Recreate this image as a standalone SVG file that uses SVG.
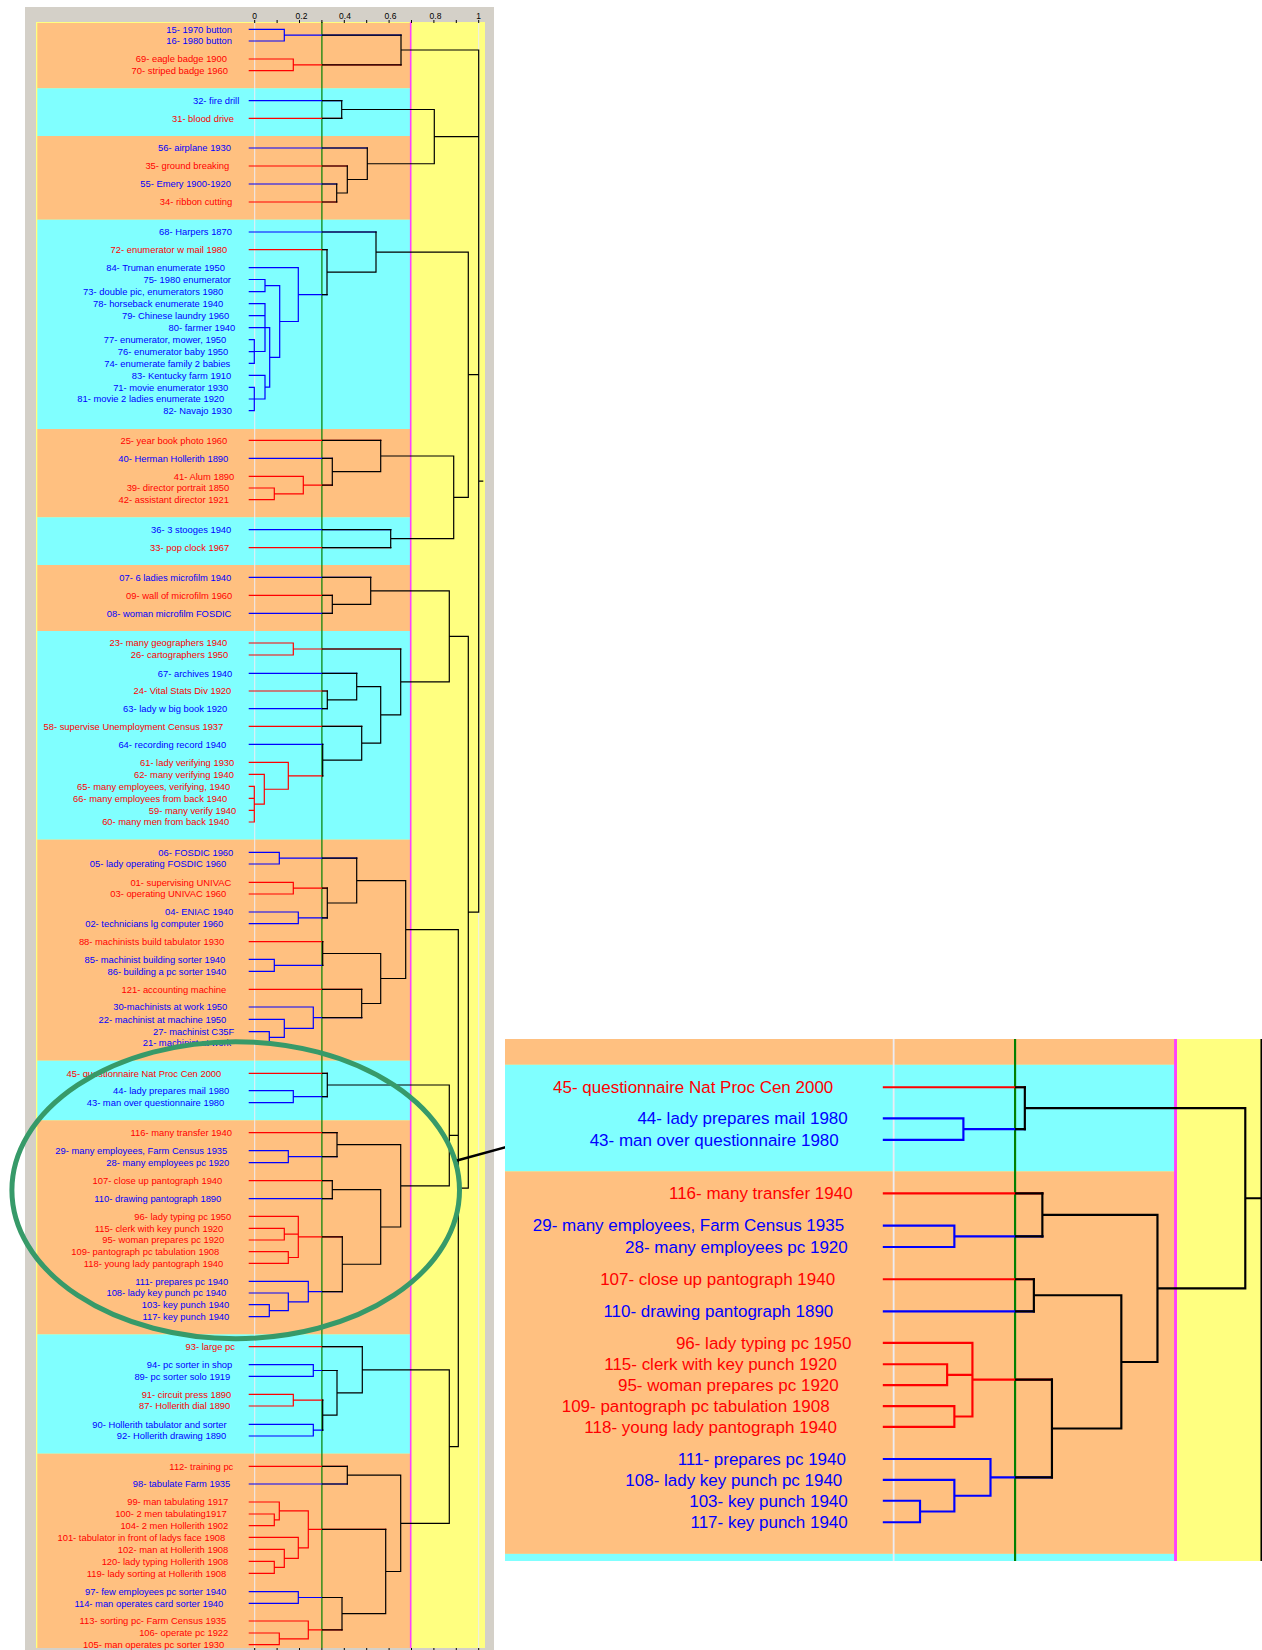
<svg xmlns="http://www.w3.org/2000/svg" xmlns:xlink="http://www.w3.org/1999/xlink" width="1262" height="1650" viewBox="0 0 1262 1650">
<style>
text{font-family:"Liberation Sans",Arial,sans-serif;font-size:9.4px;text-anchor:end}
.b{fill:#0000ff}
.r{fill:#ff0000}
.ax{font-size:8.5px;fill:#000;text-anchor:middle}
.or{fill:#ffc080}
.cy{fill:#80ffff}
</style>
<defs>
<clipPath id="rg"><rect x="321.9" y="0" width="200" height="1700"/></clipPath>
<clipPath id="insetClip"><rect x="39.6" y="1046.3" width="418.9" height="292.1"/></clipPath>
</defs>
<rect x="0" y="0" width="1262" height="1650" fill="#fff"/>
<rect x="25" y="7" width="469" height="1643" fill="#d4d0c8"/>
<g id="bands">
<rect x="36" y="22" width="449" height="1626" fill="#ffff80"/>
<rect class="or" x="37.3" y="23" width="373.4" height="65.3"/>
<rect class="cy" x="37.3" y="88.3" width="373.4" height="47.7"/>
<rect class="or" x="37.3" y="136" width="373.4" height="83.7"/>
<rect class="cy" x="37.3" y="219.7" width="373.4" height="209.3"/>
<rect class="or" x="37.3" y="429" width="373.4" height="88.3"/>
<rect class="cy" x="37.3" y="517.3" width="373.4" height="47.7"/>
<rect class="or" x="37.3" y="565" width="373.4" height="66"/>
<rect class="cy" x="37.3" y="631" width="373.4" height="208.7"/>
<rect class="or" x="37.3" y="839.7" width="373.4" height="221"/>
<rect class="cy" x="37.3" y="1060.7" width="373.4" height="59.7"/>
<rect class="or" x="37.3" y="1120.4" width="373.4" height="214"/>
<rect class="cy" x="37.3" y="1334.4" width="373.4" height="119.3"/>
<rect class="or" x="37.3" y="1453.7" width="373.4" height="194.3"/>
</g>
<g id="reflines" fill="none">
<path d="M254.7 22V1648" stroke="#ececf4" stroke-width="1"/>
<path d="M478.7 22V1648" stroke="#ececf4" stroke-width="1"/>
<path d="M321.9 22V1648" stroke="#008000" stroke-width="1.2"/>
<path d="M410.7 22V1648" stroke="#ff40ff" stroke-width="1.6"/>
</g>
<g id="axis">
<path d="M254.7 20V23M277.1 20V23M299.5 20V23M321.9 20V23M344.3 20V23M366.7 20V23M389.1 20V23M411.5 20V23M433.9 20V23M456.3 20V23M478.7 20V23M254.7 1648V1650M277.1 1648V1650M299.5 1648V1650M321.9 1648V1650M344.3 1648V1650M366.7 1648V1650M389.1 1648V1650M411.5 1648V1650M433.9 1648V1650M456.3 1648V1650M478.7 1648V1650" stroke="#000" stroke-width="1"/>
<text class="ax" x="254.7" y="19">0</text>
<text class="ax" x="301.5" y="19">0.2</text>
<text class="ax" x="345" y="19">0.4</text>
<text class="ax" x="390.5" y="19">0.6</text>
<text class="ax" x="435.5" y="19">0.8</text>
<text class="ax" x="478.7" y="19">1</text>
</g>
<g id="connectors" fill="none" stroke-width="1.2" stroke-linecap="square">
<g stroke="#0000ff"><path id="pB" d="M249.3 29.3H284.3M249.3 41H284.3M249.3 100.7H341.7M249.3 148H367.3M249.3 184H336.7M249.3 232H376M249.3 267.7H298.3M249.3 279.5H265M249.3 291.7H265M249.3 303.7H265M249.3 315.7H265M249.3 327.7H265M249.3 339.7H254.3M249.3 351.7H254.3M249.3 363.3H254.3M249.3 375.3H265M249.3 387.3H254.3M249.3 399H254.3M249.3 410.7H254.3M249.3 458.3H332.3M249.3 529.7H390.7M249.3 577.3H370.7M249.3 613.3H332.3M249.3 673.3H356.7M249.3 708.7H327.3M249.3 744.3H322.7M249.3 852.3H279.3M249.3 864H279.3M249.3 912H298.3M249.3 923.7H298.3M249.3 959.3H274.3M249.3 971.3H274.3M249.3 1007H313.3M249.3 1019.3H284.3M249.3 1031.7H269.3M249.3 1043H269.3M249.3 1090.7H293.3M249.3 1102.7H293.3M249.3 1150.7H288.3M249.3 1162.7H288.3M249.3 1198.7H332.3M249.3 1281.3H308.3M249.3 1293H288.3M249.3 1304.7H269.3M249.3 1316.7H269.3M249.3 1364.7H313.3M249.3 1376.3H313.3M249.3 1424.3H313.3M249.3 1436H313.3M249.3 1484H347.3M249.3 1591.7H298.3M249.3 1603.3H298.3M284.3 29.3V41M284.3 35.2H401M265 279.5V291.7M265 285.6H279.7M254.3 339.7V363.3M254.3 351.5H265M265 303.7V351.5M265 327.6H269.7M254.3 387.3V410.7M254.3 399H265M265 375.3V399M265 387.2H269.7M269.7 327.6V387.2M269.7 357.4H279.7M279.7 285.6V357.4M279.7 321.5H298.3M298.3 267.7V321.5M298.3 294.6H327M279.3 852.3V864M279.3 858.2H356.7M298.3 912V923.7M298.3 917.8H327.3M274.3 959.3V971.3M274.3 965.3H322.7M269.3 1031.7V1043M269.3 1037.3H284.3M284.3 1019.3V1037.3M284.3 1028.3H313.3M313.3 1007V1028.3M313.3 1017.7H361.7M293.3 1090.7V1102.7M293.3 1096.7H327.3M288.3 1150.7V1162.7M288.3 1156.7H337M269.3 1304.7V1316.7M269.3 1310.7H288.3M288.3 1293V1310.7M288.3 1301.9H308.3M308.3 1281.3V1301.9M308.3 1291.6H342.3M313.3 1364.7V1376.3M313.3 1370.5H337M313.3 1424.3V1436M313.3 1430.2H322.7M298.3 1591.7V1603.3M298.3 1597.5H342"/></g>
<g stroke="#ff0000"><path id="pR" d="M249.3 59H293.3M249.3 70.7H293.3M249.3 118.3H341.7M249.3 166H347.3M249.3 202H336.7M249.3 249.7H327M249.3 440.3H380.7M249.3 476.3H303.3M249.3 488H274.3M249.3 499.7H274.3M249.3 547.7H390.7M249.3 595.3H332.3M249.3 643H293.3M249.3 655H293.3M249.3 691H327.3M249.3 726.3H361.7M249.3 762.3H288.3M249.3 774.3H264.3M249.3 786.3H254.3M249.3 798.3H254.3M249.3 810.3H254.3M249.3 822H254.3M249.3 882.3H293.3M249.3 894H293.3M249.3 941.7H322.7M249.3 989.3H361.7M249.3 1073.3H327.3M249.3 1132.7H337M249.3 1180.7H332.3M249.3 1216.3H298.3M249.3 1228.3H284.3M249.3 1240H284.3M249.3 1251.7H288.3M249.3 1263.3H288.3M249.3 1346.7H362.3M249.3 1394.3H293.3M249.3 1406H293.3M249.3 1466.3H347.3M249.3 1502H279.3M249.3 1514H274.3M249.3 1525.7H274.3M249.3 1537.3H298.3M249.3 1549.3H284.3M249.3 1561.3H274.3M249.3 1573.3H274.3M249.3 1621H308.3M249.3 1633H279.3M249.3 1644.7H279.3M293.3 59V70.7M293.3 64.85H401M274.3 488V499.7M274.3 493.85H303.3M303.3 476.3V493.85M303.3 485.1H332.3M293.3 643V655M293.3 649H400.7M254.3 786.3V822M254.3 804.2H264.3M264.3 774.3V804.2M264.3 789.25H288.3M288.3 762.3V789.25M288.3 775.8H322.7M293.3 882.3V894M293.3 888.2H327.3M284.3 1228.3V1240M284.3 1234.2H298.3M288.3 1251.7V1263.3M288.3 1257.5H298.3M298.3 1216.3V1257.5M298.3 1236.9H342.3M293.3 1394.3V1406M293.3 1400.2H322.7M274.3 1514V1525.7M274.3 1519.85H279.3M279.3 1502V1519.85M279.3 1510.9H308.3M274.3 1561.3V1573.3M274.3 1567.3H284.3M284.3 1549.3V1567.3M284.3 1558.3H298.3M298.3 1537.3V1558.3M298.3 1547.8H308.3M308.3 1510.9V1547.8M308.3 1529.35H385.7M279.3 1633V1644.7M279.3 1638.85H308.3M308.3 1621V1638.85M308.3 1629.9H342"/></g>
<g stroke="#000000" clip-path="url(#rg)"><use xlink:href="#pB" href="#pB"/><use xlink:href="#pR" href="#pR"/></g>
<path id="pK" stroke="#000000" d="M401 35.2V64.85M401 50H478.7M341.7 100.7V118.3M341.7 109.5H434.3M336.7 184V202M336.7 193H347.3M347.3 166V193M347.3 179.5H367.3M367.3 148V179.5M367.3 163.75H434.3M434.3 109.5V163.75M434.3 136.6H478.7M327 249.7V294.6M327 272.15H376M376 232V272.15M376 252.1H468.3M332.3 458.3V485.1M332.3 471.7H380.7M380.7 440.3V471.7M380.7 456H453.7M390.7 529.7V547.7M390.7 538.7H453.7M453.7 456V538.7M453.7 497.35H468.3M468.3 252.1V497.35M468.3 374.7H478.7M332.3 595.3V613.3M332.3 604.3H370.7M370.7 577.3V604.3M370.7 590.8H449.3M327.3 691V708.7M327.3 699.85H356.7M356.7 673.3V699.85M356.7 686.6H380.7M322.7 744.3V775.8M322.7 760.05H361.7M361.7 726.3V760.05M361.7 743.2H380.7M380.7 686.6V743.2M380.7 714.9H400.7M400.7 649V714.9M400.7 681.95H449.3M449.3 590.8V681.95M449.3 636.4H468.3M327.3 888.2V917.8M327.3 903H356.7M356.7 858.2V903M356.7 880.6H405.7M322.7 941.7V965.3M322.7 953.5H380.7M361.7 989.3V1017.7M361.7 1003.5H380.7M380.7 953.5V1003.5M380.7 978.5H405.7M405.7 880.6V978.5M405.7 929.55H458.3M327.3 1073.3V1096.7M327.3 1085H449.3M337 1132.7V1156.7M337 1144.7H400.7M332.3 1180.7V1198.7M332.3 1189.7H380.7M342.3 1236.9V1291.6M342.3 1264.25H380.7M380.7 1189.7V1264.25M380.7 1227H400.7M400.7 1144.7V1227M400.7 1185.85H449.3M449.3 1085V1185.85M449.3 1135.4H458.3M322.7 1400.2V1430.2M322.7 1415.2H337M337 1370.5V1415.2M337 1392.85H362.3M362.3 1346.7V1392.85M362.3 1369.8H449.3M347.3 1466.3V1484M347.3 1475.15H400.7M342 1597.5V1629.9M342 1613.7H385.7M385.7 1529.35V1613.7M385.7 1571.5H400.7M400.7 1475.15V1571.5M400.7 1523.3H449.3M449.3 1369.8V1523.3M449.3 1446.55H458.3M458.3 929.55V1446.55M458.3 1188.05H468.3M468.3 636.4V1188.05M468.3 912.2H478.7M478.7 50V912.2M478.7 481.1H482.7"/>
</g>
<g id="leaves">
<g id="n15"><text class="b" x="232" y="32.6">15- 1970 button</text></g>
<g id="n16"><text class="b" x="232" y="44.3">16- 1980 button</text></g>
<g id="n69"><text class="r" x="227" y="62.3">69- eagle badge 1900</text></g>
<g id="n70"><text class="r" x="228" y="74">70- striped badge 1960</text></g>
<g id="n32"><text class="b" x="239.3" y="104">32- fire drill</text></g>
<g id="n31"><text class="r" x="234" y="121.6">31- blood drive</text></g>
<g id="n56"><text class="b" x="231" y="151.3">56- airplane 1930</text></g>
<g id="n35"><text class="r" x="229.3" y="169.3">35- ground breaking</text></g>
<g id="n55"><text class="b" x="231" y="187.3">55- Emery 1900-1920</text></g>
<g id="n34"><text class="r" x="232.3" y="205.3">34- ribbon cutting</text></g>
<g id="n68"><text class="b" x="232" y="235.3">68- Harpers 1870</text></g>
<g id="n72"><text class="r" x="227.3" y="253">72- enumerator w mail 1980</text></g>
<g id="n84"><text class="b" x="225" y="271">84- Truman enumerate 1950</text></g>
<g id="n75"><text class="b" x="231" y="282.8">75- 1980 enumerator</text></g>
<g id="n73"><text class="b" x="223.3" y="295">73- double pic, enumerators 1980</text></g>
<g id="n78"><text class="b" x="223.3" y="307">78- horseback enumerate 1940</text></g>
<g id="n79"><text class="b" x="229.3" y="319">79- Chinese laundry 1960</text></g>
<g id="n80"><text class="b" x="235.3" y="331">80- farmer 1940</text></g>
<g id="n77"><text class="b" x="226.3" y="343">77- enumerator, mower, 1950</text></g>
<g id="n76"><text class="b" x="228.3" y="355">76- enumerator baby 1950</text></g>
<g id="n74"><text class="b" x="230.3" y="366.6">74- enumerate family 2 babies</text></g>
<g id="n83"><text class="b" x="231.3" y="378.6">83- Kentucky farm 1910</text></g>
<g id="n71"><text class="b" x="228.3" y="390.6">71- movie enumerator 1930</text></g>
<g id="n81"><text class="b" x="224.3" y="402.3">81- movie 2 ladies enumerate 1920</text></g>
<g id="n82"><text class="b" x="232" y="414">82- Navajo 1930</text></g>
<g id="n25"><text class="r" x="227.3" y="443.6">25- year book photo 1960</text></g>
<g id="n40"><text class="b" x="228.3" y="461.6">40- Herman Hollerith 1890</text></g>
<g id="n41"><text class="r" x="234.3" y="479.6">41- Alum 1890</text></g>
<g id="n39"><text class="r" x="229.3" y="491.3">39- director portrait 1850</text></g>
<g id="n42"><text class="r" x="229" y="503">42- assistant director 1921</text></g>
<g id="n36"><text class="b" x="231.3" y="533">36- 3 stooges 1940</text></g>
<g id="n33"><text class="r" x="229.3" y="551">33- pop clock 1967</text></g>
<g id="n07"><text class="b" x="231.3" y="580.6">07- 6 ladies microfilm 1940</text></g>
<g id="n09"><text class="r" x="232.3" y="598.6">09- wall of microfilm 1960</text></g>
<g id="n08"><text class="b" x="231.3" y="616.6">08- woman microfilm FOSDIC</text></g>
<g id="n23"><text class="r" x="227.3" y="646.3">23- many geographers 1940</text></g>
<g id="n26"><text class="r" x="228.3" y="658.3">26- cartographers 1950</text></g>
<g id="n67"><text class="b" x="232.3" y="676.6">67- archives 1940</text></g>
<g id="n24"><text class="r" x="231.3" y="694.3">24- Vital Stats Div 1920</text></g>
<g id="n63"><text class="b" x="227.3" y="712">63- lady w big book 1920</text></g>
<g id="n58"><text class="r" x="223.3" y="729.6">58- supervise Unemployment Census 1937</text></g>
<g id="n64"><text class="b" x="226.3" y="747.6">64- recording record 1940</text></g>
<g id="n61"><text class="r" x="234.3" y="765.6">61- lady verifying 1930</text></g>
<g id="n62"><text class="r" x="234" y="777.6">62- many verifying 1940</text></g>
<g id="n65"><text class="r" x="230.3" y="789.6">65- many employees, verifying, 1940</text></g>
<g id="n66"><text class="r" x="227.3" y="801.6">66- many employees from back 1940</text></g>
<g id="n59"><text class="r" x="236.3" y="813.6">59- many verify 1940</text></g>
<g id="n60"><text class="r" x="229.3" y="825.3">60- many men from back 1940</text></g>
<g id="n06"><text class="b" x="233.3" y="855.6">06- FOSDIC 1960</text></g>
<g id="n05"><text class="b" x="226.3" y="867.3">05- lady operating FOSDIC 1960</text></g>
<g id="n01"><text class="r" x="231.3" y="885.6">01- supervising UNIVAC</text></g>
<g id="n03"><text class="r" x="226.3" y="897.3">03- operating UNIVAC 1960</text></g>
<g id="n04"><text class="b" x="233.3" y="915.3">04- ENIAC 1940</text></g>
<g id="n02"><text class="b" x="223.3" y="927">02- technicians lg computer 1960</text></g>
<g id="n88"><text class="r" x="224.3" y="945">88- machinists build tabulator 1930</text></g>
<g id="n85"><text class="b" x="225.3" y="962.6">85- machinist building sorter 1940</text></g>
<g id="n86"><text class="b" x="226.3" y="974.6">86- building a pc sorter 1940</text></g>
<g id="n121"><text class="r" x="226.3" y="992.6">121- accounting machine</text></g>
<g id="n30"><text class="b" x="227.3" y="1010.3">30-machinists at work 1950</text></g>
<g id="n22"><text class="b" x="226.3" y="1022.6">22- machinist at machine 1950</text></g>
<g id="n27"><text class="b" x="234.3" y="1035">27- machinist C35F</text></g>
<g id="n21"><text class="b" x="231.3" y="1046.3">21- machinist at work</text></g>
<g id="n45"><text class="r" x="221.3" y="1076.6">45- questionnaire Nat Proc Cen 2000</text></g>
<g id="n44"><text class="b" x="229.3" y="1094">44- lady prepares mail 1980</text></g>
<g id="n43"><text class="b" x="224.3" y="1106">43- man over questionnaire 1980</text></g>
<g id="n116"><text class="r" x="232" y="1136">116- many transfer 1940</text></g>
<g id="n29"><text class="b" x="227.3" y="1154">29- many employees, Farm Census 1935</text></g>
<g id="n28"><text class="b" x="229.3" y="1166">28- many employees pc 1920</text></g>
<g id="n107"><text class="r" x="222.3" y="1184">107- close up pantograph 1940</text></g>
<g id="n110"><text class="b" x="221.3" y="1202">110- drawing pantograph 1890</text></g>
<g id="n96"><text class="r" x="231.3" y="1219.6">96- lady typing pc 1950</text></g>
<g id="n115"><text class="r" x="223.3" y="1231.6">115- clerk with key punch 1920</text></g>
<g id="n95"><text class="r" x="224.3" y="1243.3">95- woman prepares pc 1920</text></g>
<g id="n109"><text class="r" x="219.3" y="1255">109- pantograph pc tabulation 1908</text></g>
<g id="n118"><text class="r" x="223.3" y="1266.6">118- young lady pantograph 1940</text></g>
<g id="n111"><text class="b" x="228.3" y="1284.6">111- prepares pc 1940</text></g>
<g id="n108"><text class="b" x="226.3" y="1296.3">108- lady key punch pc 1940</text></g>
<g id="n103"><text class="b" x="229.3" y="1308">103- key punch 1940</text></g>
<g id="n117"><text class="b" x="229.3" y="1320">117- key punch 1940</text></g>
<g id="n93"><text class="r" x="235" y="1350">93- large pc</text></g>
<g id="n94"><text class="b" x="232.3" y="1368">94- pc sorter in shop</text></g>
<g id="n89"><text class="b" x="230.3" y="1379.6">89- pc sorter solo 1919</text></g>
<g id="n91"><text class="r" x="231.3" y="1397.6">91- circuit press 1890</text></g>
<g id="n87"><text class="r" x="230.3" y="1409.3">87- Hollerith dial 1890</text></g>
<g id="n90"><text class="b" x="226.7" y="1427.6">90- Hollerith tabulator and sorter</text></g>
<g id="n92"><text class="b" x="226.3" y="1439.3">92- Hollerith drawing 1890</text></g>
<g id="n112"><text class="r" x="233.3" y="1469.6">112- training pc</text></g>
<g id="n98"><text class="b" x="230.3" y="1487.3">98- tabulate Farm 1935</text></g>
<g id="n99"><text class="r" x="228.3" y="1505.3">99- man tabulating 1917</text></g>
<g id="n100"><text class="r" x="226.7" y="1517.3">100- 2 men tabulating1917</text></g>
<g id="n104"><text class="r" x="228.3" y="1529">104- 2 men Hollerith 1902</text></g>
<g id="n101"><text class="r" x="225.3" y="1540.6">101- tabulator in front of ladys face 1908</text></g>
<g id="n102"><text class="r" x="228.3" y="1552.6">102- man at Hollerith 1908</text></g>
<g id="n120"><text class="r" x="228.3" y="1564.6">120- lady typing Hollerith 1908</text></g>
<g id="n119"><text class="r" x="226.3" y="1576.6">119- lady sorting at Hollerith 1908</text></g>
<g id="n97"><text class="b" x="226.3" y="1595">97- few employees pc sorter 1940</text></g>
<g id="n114"><text class="b" x="223.3" y="1606.6">114- man operates card sorter 1940</text></g>
<g id="n113"><text class="r" x="226.3" y="1624.3">113- sorting pc- Farm Census 1935</text></g>
<g id="n106"><text class="r" x="228.3" y="1636.3">106- operate pc 1922</text></g>
<g id="n105"><text class="r" x="224.3" y="1648">105- man operates pc sorter 1930</text></g>
</g>
<g id="highlight">
<ellipse cx="235.7" cy="1190.2" rx="223.8" ry="148.5" fill="none" stroke="#379a69" stroke-width="5"/>
<line x1="457" y1="1160.5" x2="552" y2="1134.5" stroke="#000" stroke-width="2.5"/>
</g>
<g id="inset" transform="matrix(1.807 0 0 1.787 433.4 -830.7)">
<g clip-path="url(#insetClip)">
<use xlink:href="#bands" href="#bands"/>
<use xlink:href="#reflines" href="#reflines"/>
<use xlink:href="#connectors" href="#connectors"/>
<g id="inset-labels">
<text class="r" x="221.3" y="1076.6">45- questionnaire Nat Proc Cen 2000</text>
<text class="b" x="229.3" y="1094">44- lady prepares mail 1980</text>
<text class="b" x="224.3" y="1106">43- man over questionnaire 1980</text>
<text class="r" x="232" y="1136">116- many transfer 1940</text>
<text class="b" x="227.3" y="1154">29- many employees, Farm Census 1935</text>
<text class="b" x="229.3" y="1166">28- many employees pc 1920</text>
<text class="r" x="222.3" y="1184">107- close up pantograph 1940</text>
<text class="b" x="221.3" y="1202">110- drawing pantograph 1890</text>
<text class="r" x="231.3" y="1219.6">96- lady typing pc 1950</text>
<text class="r" x="223.3" y="1231.6">115- clerk with key punch 1920</text>
<text class="r" x="224.3" y="1243.3">95- woman prepares pc 1920</text>
<text class="r" x="219.3" y="1255">109- pantograph pc tabulation 1908</text>
<text class="r" x="223.3" y="1266.6">118- young lady pantograph 1940</text>
<text class="b" x="228.3" y="1284.6">111- prepares pc 1940</text>
<text class="b" x="226.3" y="1296.3">108- lady key punch pc 1940</text>
<text class="b" x="229.3" y="1308">103- key punch 1940</text>
<text class="b" x="229.3" y="1320">117- key punch 1940</text>
</g>
</g>
</g>
</svg>
